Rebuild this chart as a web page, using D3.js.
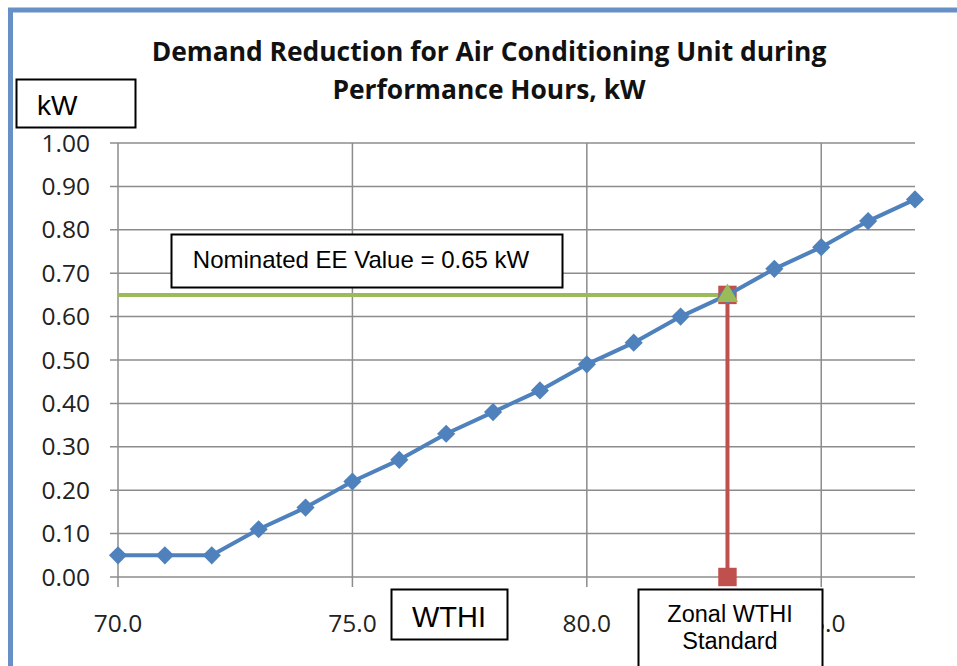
<!DOCTYPE html>
<html>
<head>
<meta charset="utf-8">
<script src="https://cdn.jsdelivr.net/npm/d3@7"></script>
<style>
  html, body { margin: 0; padding: 0; background: #fff; }
  svg { display: block; }
</style>
</head>
<body>
<script>
/* global d3 */

const width = 957;
const height = 666;

// data
const wthi = [70, 71, 72, 73, 74, 75, 76, 77, 78, 79, 80, 81, 82, 83, 84, 85, 86, 87];
const demandKw = [0.05, 0.05, 0.05, 0.11, 0.16, 0.22, 0.27, 0.33, 0.38, 0.43, 0.49, 0.54, 0.60, 0.65, 0.71, 0.76, 0.82, 0.87];
const nominatedX = [70, 83];
const nominatedY = [0.65, 0.65];
const zonalX = [83, 83];
const zonalY = [0, 0.65];
const xTicks = [70, 75, 80, 85];
const yTicks = [0, 0.1, 0.2, 0.3, 0.4, 0.5, 0.6, 0.7, 0.8, 0.9, 1.0];

const titleLines = ['Demand Reduction for Air Conditioning Unit during', 'Performance Hours, kW'];

const margin = { top: 143, right: 42, bottom: 89, left: 118 };

const svg = d3.select('body').append('svg')
  .attr('width', width)
  .attr('height', height);

const x = d3.scaleLinear()
  .domain([70, 87])
  .range([margin.left, width - margin.right]);

const y = d3.scaleLinear()
  .domain([0, 1])
  .range([height - margin.bottom, margin.top]);

// outer frame
svg.append('rect')
  .attr('x', 10.5).attr('y', 10)
  .attr('width', 960).attr('height', 700)
  .style('fill', 'none')
  .style('stroke', '#6690c6')
  .style('stroke-width', 5);

// title
svg.append('g')
  .selectAll('text')
  .data(titleLines)
  .enter().append('text')
    .attr('x', 489)
    .attr('y', (d, i) => 61 + i * 38)
    .attr('text-anchor', 'middle')
    .style('font-family', '"Open Sans", sans-serif')
    .style('font-weight', 'bold')
    .style('font-size', '26.4px')
    .style('fill', '#111')
    .text(d => d);

// gridlines
const grid = svg.append('g').style('stroke', '#8c8c8c').style('stroke-width', 1.5);
grid.selectAll('.h')
  .data(yTicks)
  .enter().append('line')
    .attr('x1', x(70) - 8)
    .attr('x2', x(87))
    .attr('y1', d => y(d))
    .attr('y2', d => y(d));
grid.selectAll('.v')
  .data(xTicks)
  .enter().append('line')
    .attr('x1', d => x(d))
    .attr('x2', d => x(d))
    .attr('y1', y(1))
    .attr('y2', y(0) + 10);

// tick labels
svg.append('g')
  .selectAll('text')
  .data(yTicks)
  .enter().append('text')
    .attr('x', 90)
    .attr('y', d => y(d) + 8.5)
    .attr('text-anchor', 'end')
    .style('font-family', '"Open Sans", sans-serif')
    .style('font-size', '24.5px')
    .style('fill', '#222')
    .text(d => d3.format('.2f')(d));

svg.append('g')
  .selectAll('text')
  .data(xTicks)
  .enter().append('text')
    .attr('x', d => x(d))
    .attr('y', 632)
    .attr('text-anchor', 'middle')
    .style('font-family', '"Open Sans", sans-serif')
    .style('font-size', '24.5px')
    .style('fill', '#222')
    .text(d => d3.format('.1f')(d));

const line = d3.line()
  .x(d => x(d[0]))
  .y(d => y(d[1]));

// nominated EE value (green)
const nominated = d3.zip(nominatedX, nominatedY);
svg.append('path')
  .datum(nominated)
  .attr('d', line)
  .style('fill', 'none')
  .style('stroke', '#9bbb59')
  .style('stroke-width', 4);

// zonal WTHI standard (red)
const zonal = d3.zip(zonalX, zonalY);
svg.append('path')
  .datum(zonal)
  .attr('d', line)
  .style('fill', 'none')
  .style('stroke', '#c0504d')
  .style('stroke-width', 4);
svg.append('g')
  .selectAll('path')
  .data(zonal)
  .enter().append('path')
    .attr('transform', d => `translate(${x(d[0])},${y(d[1])})`)
    .attr('d', d3.symbol().type(d3.symbolSquare).size(340))
    .style('fill', '#c0504d');

// demand series (blue)
const demand = d3.zip(wthi, demandKw);
svg.append('path')
  .datum(demand)
  .attr('d', line)
  .style('fill', 'none')
  .style('stroke', '#4f81bd')
  .style('stroke-width', 4)
  .style('stroke-linejoin', 'round');
svg.append('g')
  .selectAll('path')
  .data(demand)
  .enter().append('path')
    .attr('transform', d => `translate(${x(d[0])},${y(d[1])}) rotate(45)`)
    .attr('d', d3.symbol().type(d3.symbolSquare).size(165))
    .style('fill', '#4f81bd');

// green triangle marker at nominated end
svg.append('path')
  .attr('transform', `translate(${x(nominated[1][0])},${y(nominated[1][1]) + 1})`)
  .attr('d', d3.symbol().type(d3.symbolTriangle).size(200))
  .style('fill', '#9bbb59');

// text boxes
const boxes = [
  { x: 16, y: 79, w: 119, h: 48, lines: ['kW'], tx: 37, ty: 115, anchor: 'start', size: 28 },
  { x: 171, y: 234, w: 391, h: 53, lines: ['Nominated EE Value = 0.65 kW'], tx: 361, ty: 268, anchor: 'middle', size: 24 },
  { x: 391, y: 589, w: 116, h: 50, lines: ['WTHI'], tx: 449, ty: 627, anchor: 'middle', size: 29 },
  { x: 638, y: 589, w: 184, h: 100, lines: ['Zonal WTHI', 'Standard'], tx: 730, ty: 622, anchor: 'middle', size: 23.5 }
];

const boxG = svg.append('g')
  .selectAll('g')
  .data(boxes)
  .enter().append('g');

boxG.append('rect')
  .attr('x', d => d.x + 0.5)
  .attr('y', d => d.y + 0.5)
  .attr('width', d => d.w)
  .attr('height', d => d.h)
  .style('fill', '#fff')
  .style('stroke', '#000')
  .style('stroke-width', 2);

boxG.each(function(d) {
  d3.select(this).selectAll('text')
    .data(d.lines)
    .enter().append('text')
      .attr('x', d.tx)
      .attr('y', (t, i) => d.ty + i * 27)
      .attr('text-anchor', d.anchor)
      .style('font-family', '"Liberation Sans", Arial, sans-serif')
      .style('font-size', d.size + 'px')
      .style('fill', '#000')
      .text(t => t);
});
</script>
</body>
</html>
